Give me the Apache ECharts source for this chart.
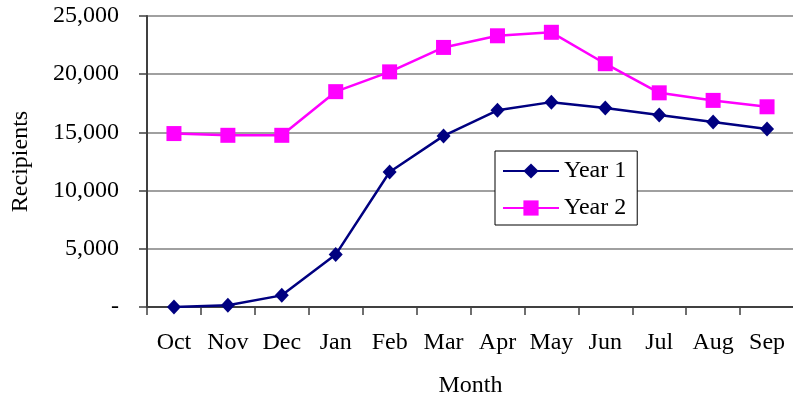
<!DOCTYPE html>
<html>
<head>
<meta charset="utf-8">
<script src="https://cdn.jsdelivr.net/npm/echarts@6/dist/echarts.min.js"></script>
<style>
html,body{margin:0;padding:0;background:#fff;}
#chart{width:793px;height:398px;}
</style>
</head>
<body>
<div id="chart"></div>
<script>
const months = ['Oct','Nov','Dec','Jan','Feb','Mar','Apr','May','Jun','Jul','Aug','Sep'];
const year1 = [0, 150, 1000, 4500, 11600, 14700, 16900, 17600, 17100, 16500, 15900, 15300];
const year2 = [14900, 14750, 14750, 18500, 20200, 22300, 23300, 23600, 20900, 18400, 17750, 17200];
const yTicks = [0, 5000, 10000, 15000, 20000, 25000];

const FONT = "'Liberation Serif', 'Times New Roman', serif";
const FS = 24;
const chart = echarts.init(document.getElementById('chart'), null, {renderer: 'canvas'});
chart.setOption({
  animation: false,
  backgroundColor: '#ffffff',
  textStyle: {fontFamily: FONT, color: '#000'},
  grid: {left: 147, right: -1, top: 16, bottom: 91, containLabel: false, outerBoundsMode: 'none'},
  legend: {
    left: 495, top: 151,
    orient: 'vertical',
    data: ['Year 1', 'Year 2'],
    backgroundColor: '#fff',
    borderColor: '#000',
    borderWidth: 1,
    padding: [8, 11, 5, 7],
    itemWidth: 56,
    itemHeight: 19,
    itemGap: 13,
    textStyle: {fontFamily: FONT, fontSize: FS, color: '#000', lineHeight: 24, padding: [0,0,0,0]}
  },
  xAxis: {
    type: 'category',
    data: months,
    boundaryGap: true,
    name: 'Month',
    nameLocation: 'middle',
    nameGap: 67,
    nameTextStyle: {fontFamily: FONT, fontSize: FS, color: '#000'},
    axisLine: {show: true, lineStyle: {color: '#404040', width: 2}},
    axisTick: {show: true, length: 8, lineStyle: {color: '#404040', width: 1.5}},
    axisLabel: {fontFamily: FONT, fontSize: FS, color: '#000', margin: 24, interval: 0},
    splitLine: {show: false}
  },
  yAxis: {
    type: 'value',
    min: yTicks[0],
    max: yTicks[yTicks.length - 1],
    interval: yTicks[1] - yTicks[0],
    name: 'Recipients',
    nameLocation: 'middle',
    nameGap: 114,
    nameTextStyle: {fontFamily: FONT, fontSize: FS, color: '#000'},
    axisLine: {show: true, lineStyle: {color: '#404040', width: 2}},
    axisTick: {show: true, length: 8, lineStyle: {color: '#404040', width: 1.5}},
    axisLabel: {
      fontFamily: FONT, fontSize: FS, color: '#000', margin: 28,
      formatter: v => v === 0 ? '-' : v.toLocaleString('en-US')
    },
    splitLine: {show: true, lineStyle: {color: '#808080', width: 1.5}}
  },
  series: [
    {
      name: 'Year 1', type: 'line', data: year1,
      symbol: 'diamond', symbolSize: [14, 15],
      lineStyle: {color: '#000080', width: 2.5},
      itemStyle: {color: '#000080'},
      z: 3
    },
    {
      name: 'Year 2', type: 'line', data: year2,
      symbol: 'rect', symbolSize: 15,
      lineStyle: {color: '#ff00ff', width: 2.5},
      itemStyle: {color: '#ff00ff'},
      z: 2
    }
  ]
});
</script>
</body>
</html>
